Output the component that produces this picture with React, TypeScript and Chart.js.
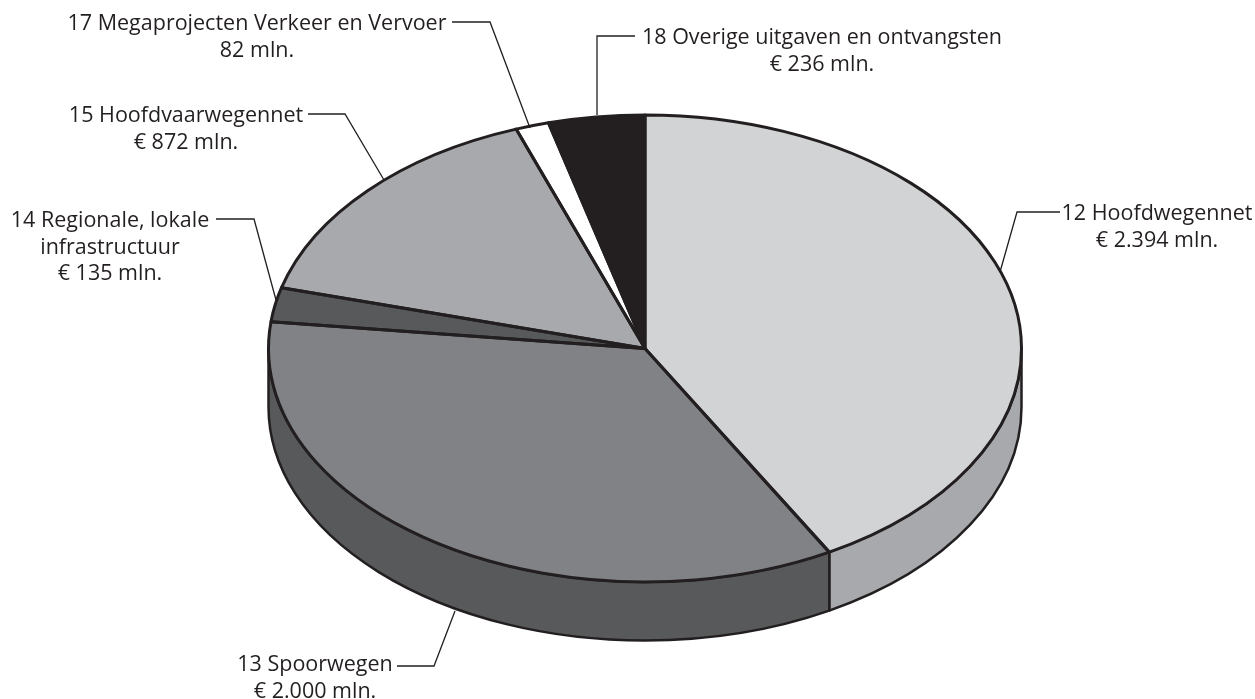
import React, { useEffect, useRef } from "react";
import { Chart, registerables } from "chart.js";

Chart.register(...registerables);

const categories = [
  "12 Hoofdwegennet",
  "13 Spoorwegen",
  "14 Regionale, lokale infrastructuur",
  "15 Hoofdvaarwegennet",
  "17 Megaprojecten Verkeer en Vervoer",
  "18 Overige uitgaven en ontvangsten",
];
const values = [2394, 2000, 135, 872, 82, 236];
const topColors = ["#d1d3d4", "#808285", "#58595b", "#a7a9ac", "#ffffff", "#231f20"];
const sideColors = ["#a7a9ac", "#58595b", "#58595b", "#a7a9ac", "#ffffff", "#231f20"];

const labelLines = [
  ["12 Hoofdwegennet", "€ 2.394 mln."],
  ["13 Spoorwegen", "€ 2.000 mln."],
  ["14 Regionale, lokale", "infrastructuur", "€ 135 mln."],
  ["15 Hoofdvaarwegennet", "€ 872 mln."],
  ["17 Megaprojecten Verkeer en Vervoer", "82 mln."],
  ["18 Overige uitgaven en ontvangsten", "€ 236 mln."],
];
// centre x / first-line y of each label block
const labelPos = [
  [1157, 214],
  [315, 665],
  [110, 221],
  [186, 116],
  [257, 24],
  [822, 38],
];
const leaders = [
  [[1060, 212], [1017, 212], [1000, 272]],
  [[397, 666], [434, 666], [455, 611]],
  [[216, 219], [254, 219], [276, 300]],
  [[308, 114], [345, 114], [384, 180]],
  [[452, 22], [490, 22], [530, 128]],
  [[635, 36], [597, 36], [597, 115]],
];

const INK = "#231f20";
const CENTER_X = 645;
const CENTER_Y = 348.5;
const RX = 376.5;
const RY = 233.5;
const DEPTH = 58.5;
const LINE_H = 26.5;
const FONT = '21.5px "Open Sans", sans-serif';

function tilt(ctx: CanvasRenderingContext2D, el: any, dy = 0) {
  ctx.translate(CENTER_X, CENTER_Y + dy);
  ctx.scale(RX / el.outerRadius, RY / el.outerRadius);
  ctx.translate(-el.x, -el.y);
}

const tiltedPie = {
  id: "tiltedPie",
  beforeDatasetsDraw(chart: any) {
    const ctx: CanvasRenderingContext2D = chart.ctx;
    const arcs = chart.getDatasetMeta(0).data;
    // extruded wall, only on the front half of the ellipse
    arcs.forEach((el: any, i: number) => {
      const a0 = Math.max(el.startAngle, 0);
      const a1 = Math.min(el.endAngle, Math.PI);
      if (a1 <= a0) return;
      ctx.save();
      ctx.beginPath();
      ctx.save();
      tilt(ctx, el, 0);
      ctx.arc(el.x, el.y, el.outerRadius, a0, a1);
      ctx.restore();
      ctx.save();
      tilt(ctx, el, DEPTH);
      ctx.arc(el.x, el.y, el.outerRadius, a1, a0, true);
      ctx.restore();
      ctx.closePath();
      ctx.fillStyle = sideColors[i];
      ctx.fill();
      ctx.strokeStyle = INK;
      ctx.lineWidth = 2.5;
      ctx.lineJoin = "round";
      ctx.stroke();
      ctx.restore();
    });
    ctx.save();
    tilt(ctx, arcs[0]);
  },
  afterDatasetsDraw(chart: any) {
    const ctx: CanvasRenderingContext2D = chart.ctx;
    ctx.restore();
    const arcs = chart.getDatasetMeta(0).data;
    arcs.forEach((el: any) => {
      ctx.save();
      ctx.beginPath();
      ctx.save();
      tilt(ctx, el);
      ctx.moveTo(el.x, el.y);
      ctx.arc(el.x, el.y, el.outerRadius, el.startAngle, el.endAngle);
      ctx.closePath();
      ctx.restore();
      ctx.strokeStyle = INK;
      ctx.lineWidth = 3;
      ctx.lineJoin = "round";
      ctx.stroke();
      ctx.restore();
    });

    ctx.save();
    ctx.strokeStyle = INK;
    ctx.lineWidth = 1.3;
    leaders.forEach((pts) => {
      ctx.beginPath();
      pts.forEach(([x, y], k) => (k ? ctx.lineTo(x, y) : ctx.moveTo(x, y)));
      ctx.stroke();
    });
    ctx.fillStyle = INK;
    ctx.font = FONT;
    ctx.textAlign = "center";
    ctx.textBaseline = "middle";
    labelLines.forEach((lines, i) => {
      lines.forEach((t, k) => {
        ctx.fillText(t, labelPos[i][0], labelPos[i][1] + k * LINE_H);
      });
    });
    ctx.restore();
  },
};

export default function App() {
  const ref = useRef<HTMLCanvasElement>(null);
  useEffect(() => {
    const chart = new Chart(ref.current!, {
      type: "pie",
      data: {
        labels: categories,
        datasets: [
          {
            data: values,
            backgroundColor: topColors,
            borderWidth: 0,
            clip: false,
          } as any,
        ],
      },
      options: {
        responsive: false,
        animation: false,
        events: [],
        layout: { padding: 0 },
        plugins: { legend: { display: false }, tooltip: { enabled: false } },
      },
      plugins: [tiltedPie],
    });
    return () => chart.destroy();
  }, []);
  return (
    <canvas
      ref={ref}
      width={1255}
      height={699}
      style={{ position: "absolute", left: 0, top: 0, display: "block", background: "#fff" }}
    />
  );
}
